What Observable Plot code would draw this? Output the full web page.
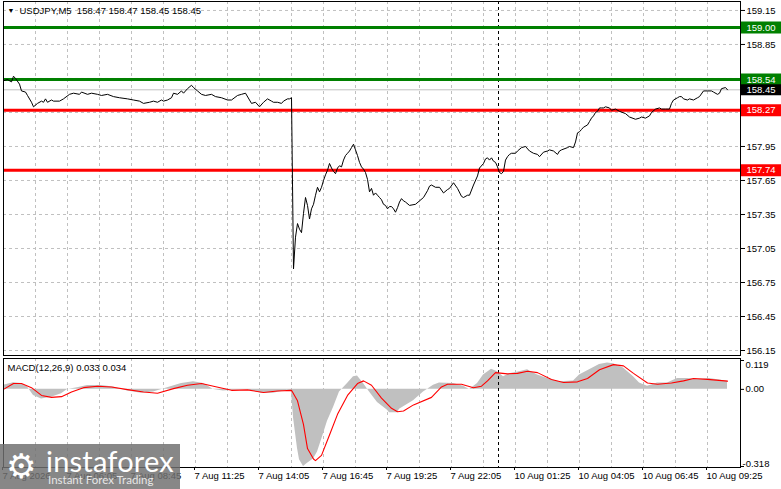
<!DOCTYPE html>
<html><head><meta charset="utf-8">
<script src="https://cdn.jsdelivr.net/npm/d3@7"></script>
<script src="https://cdn.jsdelivr.net/npm/@observablehq/plot@0.6"></script>
<style>
html,body{margin:0;padding:0;background:#fff;}
#wrap{position:relative;width:781px;height:489px;overflow:hidden;background:#fff;}
#wrap svg{display:block;}
.wm{position:absolute;left:0;top:444px;width:180px;height:45px;background:rgba(112,112,112,0.84);overflow:hidden;}
.wm .gear{position:absolute;left:6px;top:3px;font-family:"DejaVu Sans";font-size:34px;color:#fff;line-height:38px;}
.wm .brand{position:absolute;left:46px;top:1px;font-family:Lato,"Open Sans",sans-serif;font-weight:400;font-size:29px;color:#fff;letter-spacing:0.2px;line-height:32px;}
.wm .tag{position:absolute;left:48px;top:29px;font-family:Lato,"Open Sans",sans-serif;font-size:11.5px;color:#e6e6e6;line-height:14px;}
</style></head>
<body><div id="wrap"></div>
<script>
// ---- data ----
const symbolHeader = "USDJPY,M5  158.47 158.47 158.45 158.45";
const macdHeader = "MACD(12,26,9) 0.033 0.034";

const priceBars = [0,2,4,5,6,8,9,11,12,14,15,17,19,20,21,22,24,25,28,30,33,35,38,39,42,44,47,49,52,55,58,62,65,68,70,73,75,77,79,80,82,84,85,87,89,90,92,94,95,97,99,101,104,106,109,112,114,117,119,121,123,124,126,128,130,132,134,135,137,139,140,142,143,144,
145,146,147,148,149,150,151,152,153,154,155,156,157,158,159,160,161,162,163,164,165,166,167,168,169,170,171,172,173,174,175,176,177,178,179,180,181,182,183,184,185,186,187,188,189,190,191,192,193,194,195,196,197,198,199,200,201,203,206,208,210,212,213,214,216,218,220,222,223,225,227,229,230,232,233,235,237,238,240,241,242,243,244,245,246,247,248,249,250,251,252,253,254,256,257,259,261,263,265,267,268,270,272,273,275,277,278,279,282,283,285,286,287,288,289,290,292,293,294,295,296,297,298,299,300,301,303,304,306,308,311,313,316,318,319,321,323,324,326,328,329,331,333,334,335,337,338,339,340,342,343,345,347,348,350,352,354,355,357,358,359,361,362];
const priceClose = [158.53,158.54,158.52,158.57,158.55,158.50,158.44,158.43,158.40,158.34,158.30,158.33,158.35,158.34,158.37,158.34,158.36,158.35,158.35,158.37,158.41,158.42,158.41,158.43,158.41,158.42,158.41,158.40,158.41,158.39,158.38,158.37,158.36,158.35,158.33,158.34,158.35,158.34,158.36,158.35,158.36,158.38,158.42,158.41,158.44,158.42,158.46,158.49,158.47,158.44,158.41,158.40,158.41,158.39,158.38,158.36,158.36,158.40,158.41,158.42,158.36,158.33,158.34,158.30,158.34,158.37,158.35,158.34,158.34,158.33,158.35,158.37,158.37,158.38,
156.87,157.15,157.27,157.22,157.19,157.36,157.50,157.43,157.31,157.40,157.44,157.52,157.59,157.55,157.59,157.65,157.70,157.74,157.80,157.76,157.73,157.71,157.76,157.78,157.77,157.83,157.87,157.89,157.91,157.94,157.97,157.92,157.87,157.81,157.77,157.75,157.72,157.66,157.55,157.58,157.52,157.54,157.52,157.50,157.48,157.44,157.43,157.40,157.42,157.42,157.40,157.37,157.41,157.46,157.49,157.47,157.46,157.43,157.44,157.47,157.50,157.56,157.60,157.61,157.59,157.59,157.54,157.57,157.58,157.63,157.58,157.51,157.50,157.52,157.52,157.61,157.69,157.76,157.80,157.84,157.85,157.83,157.85,157.82,157.81,157.77,157.72,157.71,157.73,157.83,157.86,157.88,157.89,157.89,157.91,157.94,157.95,157.91,157.89,157.88,157.86,157.90,157.91,157.92,157.91,157.88,157.91,157.92,157.94,157.95,157.94,157.99,158.07,158.08,158.10,158.12,158.14,158.17,158.20,158.22,158.25,158.26,158.29,158.29,158.29,158.30,158.29,158.27,158.28,158.26,158.24,158.21,158.19,158.20,158.21,158.20,158.22,158.25,158.28,158.29,158.28,158.28,158.28,158.33,158.36,158.38,158.39,158.39,158.37,158.36,158.37,158.36,158.38,158.39,158.44,158.44,158.44,158.43,158.41,158.42,158.46,158.47,158.45];

const histBars = [0,5,9,12,15,19,24,29,32,37,42,49,55,62,69,75,82,89,95,100,105,110,115,122,129,135,142,144,145,147,148,150,152,155,157,159,162,165,168,172,175,177,180,183,187,192,193,197,198,205,210,215,218,225,230,233,237,240,244,247,250,253,258,262,267,272,278,285,288,293,298,302,305,310,315,318,322,327,332,337,342,347,353,362];
const histMacd = [0.017,0.027,0.024,0.010,-0.025,-0.040,-0.033,-0.018,-0.001,0.007,0.016,0.016,0.010,-0.007,-0.016,-0.011,0.007,0.024,0.031,0.024,-0.001,-0.007,-0.004,-0.002,-0.016,-0.016,-0.004,-0.010,-0.117,-0.244,-0.290,-0.318,-0.305,-0.287,-0.258,-0.209,-0.131,-0.075,-0.011,0.024,0.052,0.055,0.024,-0.011,-0.054,-0.086,-0.096,-0.096,-0.082,-0.047,-0.011,0.017,0.026,0.024,0.013,-0.001,0.024,0.059,0.083,0.073,0.052,0.064,0.073,0.081,0.059,0.045,0.031,0.035,0.059,0.081,0.102,0.109,0.106,0.088,0.052,0.026,0.013,0.026,0.026,0.045,0.045,0.041,0.045,0.033];

const signalBars = [0,5,9,14,19,24,29,34,40,47,54,62,70,77,85,92,99,105,114,122,130,137,144,147,150,152,155,156,159,163,167,172,177,180,184,189,194,197,200,205,214,219,222,229,235,239,242,246,252,257,262,267,274,280,287,292,298,305,310,315,322,327,334,340,345,352,362];
const signalLine = [0.000,0.024,0.024,0.007,-0.025,-0.033,-0.030,-0.011,0.007,0.013,0.010,-0.001,-0.011,-0.016,0.003,0.017,0.024,0.013,-0.004,-0.002,-0.013,-0.007,-0.004,-0.047,-0.145,-0.244,-0.287,-0.294,-0.272,-0.188,-0.103,-0.025,0.024,0.035,0.017,-0.036,-0.078,-0.092,-0.089,-0.064,-0.033,0.010,0.021,0.021,0.007,0.013,0.035,0.069,0.064,0.066,0.075,0.069,0.041,0.028,0.031,0.045,0.081,0.102,0.097,0.066,0.026,0.021,0.026,0.035,0.045,0.041,0.034];

const priceTicks = [159.15,158.85,158.55,158.25,157.95,157.65,157.35,157.05,156.75,156.45,156.15];
const hiddenTicks = [158.55,158.25]; // covered by level labels in the reference
const greenLevels = [159.00,158.54];
const redLevels = [158.27,157.74];
const bidPrice = [158.45];
const macdTicks = [0.119,0.00,-0.318];
const gridBars = d3.range(16, 353, 16);
const timeBars = [0,32,64,96,128,160,192,224,256,288,320,352];
const timeLabels = ["7 Aug 2026","7 Aug 06:05","7 Aug 08:45","7 Aug 11:25","7 Aug 14:05","7 Aug 16:45","7 Aug 19:25","7 Aug 22:05","10 Aug 01:25","10 Aug 04:05","10 Aug 06:45","10 Aug 09:25"];
const weekSeparator = [247.5];

// ---- tables ----
const priceRows = priceBars.map((b,i)=>({bar:b, close:priceClose[i]}));
const histRows = histBars.map((b,i)=>({bar:b, v:histMacd[i]}));
const sigRows = signalBars.map((b,i)=>({bar:b, v:signalLine[i]}));

const FONT = "'Liberation Sans', Arial, sans-serif";
const baseStyle = {fontFamily: FONT, fontSize: "9.5px", background: "#fff", color:"#000", overflow:"visible"};
const xDomain = [0, 368.5];
const grid = {stroke:"#c0c0c0", strokeDasharray:"3,3", strokeWidth:1};
const fmt2 = d => d.toFixed(2);
const shownTicks = priceTicks.filter(t => !hiddenTicks.includes(t));

const main = Plot.plot({
  width: 781, height: 357,
  marginLeft: 3, marginRight: 41, marginTop: 1, marginBottom: 2,
  style: baseStyle,
  x: {domain: xDomain, axis: null},
  y: {domain: [156.106, 159.229], axis: null},
  marks: [
    Plot.ruleX(gridBars, grid),
    Plot.ruleY(priceTicks, grid),
    Plot.ruleX(weekSeparator, {stroke:"#000", strokeDasharray:"3,3"}),
    Plot.ruleY(bidPrice, {stroke:"#c0c0c0"}),
    Plot.ruleY(greenLevels, {stroke:"#008000", strokeWidth:3}),
    Plot.ruleY(redLevels, {stroke:"#ff0000", strokeWidth:3}),
    Plot.line(priceRows, {x:"bar", y:"close", stroke:"#000", strokeWidth:1}),
    Plot.frame({stroke:"#000"}),
    Plot.axisY(priceTicks, {anchor:"right", label:null, tickSize:4, tickPadding:2, tickFormat: d => hiddenTicks.includes(d) ? "" : fmt2(d), stroke:"#000", fill:"#000", fontSize: 9.5}),
    Plot.ruleY(greenLevels, {x1: () => 369, x2: () => 392, stroke:"#008000", strokeWidth:12}),
    Plot.ruleY(redLevels, {x1: () => 369, x2: () => 392, stroke:"#ff0000", strokeWidth:12}),
    Plot.ruleY(bidPrice, {x1: () => 369, x2: () => 392, stroke:"#000", strokeWidth:11}),
    Plot.text([...greenLevels, ...redLevels, ...bidPrice], {y: d=>d, frameAnchor:"right", dx:6, textAnchor:"start", text: fmt2, fill:"#fff", fontSize:9.5}),
    Plot.text([symbolHeader], {frameAnchor:"top-left", dx:16, dy:9, lineAnchor:"middle", textAnchor:"start", fill:"#000", fontSize:9.5}),
    Plot.text(["\u25BC"], {frameAnchor:"top-left", dx:4, dy:9, lineAnchor:"middle", textAnchor:"start", fill:"#000", fontSize:7})
  ]
});

const macd = Plot.plot({
  width: 781, height: 132,
  marginLeft: 3, marginRight: 41, marginTop: 1, marginBottom: 22,
  style: baseStyle,
  x: {domain: xDomain, axis: null},
  y: {domain: [-0.318, 0.119], insetTop: 2, insetBottom: 1, axis: null},
  marks: [
    Plot.ruleX(gridBars, grid),
    Plot.areaY(histRows, {x:"bar", y:"v", fill:"#c0c0c0"}),
    Plot.ruleX(weekSeparator, {stroke:"#000", strokeDasharray:"3,3"}),
    Plot.line(sigRows, {x:"bar", y:"v", stroke:"#ff0000", strokeWidth:1.1}),
    Plot.frame({stroke:"#000"}),
    Plot.axisY(macdTicks, {anchor:"right", label:null, tickSize:3, tickFormat: () => "", stroke:"#000"}),
    Plot.text([macdTicks[1]], {y: d=>d, frameAnchor:"right", dx:5, textAnchor:"start", text: fmt2, fill:"#000", fontSize:9.5}),
    Plot.text([macdTicks[0]], {y: d=>d, frameAnchor:"right", dx:5, dy:4, textAnchor:"start", text: d=>d.toFixed(3), fill:"#000", fontSize:9.5}),
    Plot.text([macdTicks[2]], {y: d=>d, frameAnchor:"right", dx:2, dy:-3, textAnchor:"start", text: d=>d.toFixed(3), fill:"#000", fontSize:9.5}),
    Plot.axisX(timeBars, {anchor:"bottom", label:null, tickSize:3, tickPadding:2, textAnchor:"start", dx:-1, tickFormat: d => timeLabels[timeBars.indexOf(d)], fontSize:9.5, fill:"#000"}),
    Plot.text([macdHeader], {frameAnchor:"top-left", dx:4, dy:9, lineAnchor:"middle", textAnchor:"start", fill:"#000", fontSize:9.5})
  ]
});

const wrap = document.getElementById("wrap");
wrap.appendChild(main);
wrap.appendChild(macd);
const wm = document.createElement("div");
wm.className = "wm";
wm.innerHTML = '<span class="gear">\u2699</span><span class="brand">instaforex</span><span class="tag">Instant Forex Trading</span>';
wrap.appendChild(wm);
</script>
</body></html>
